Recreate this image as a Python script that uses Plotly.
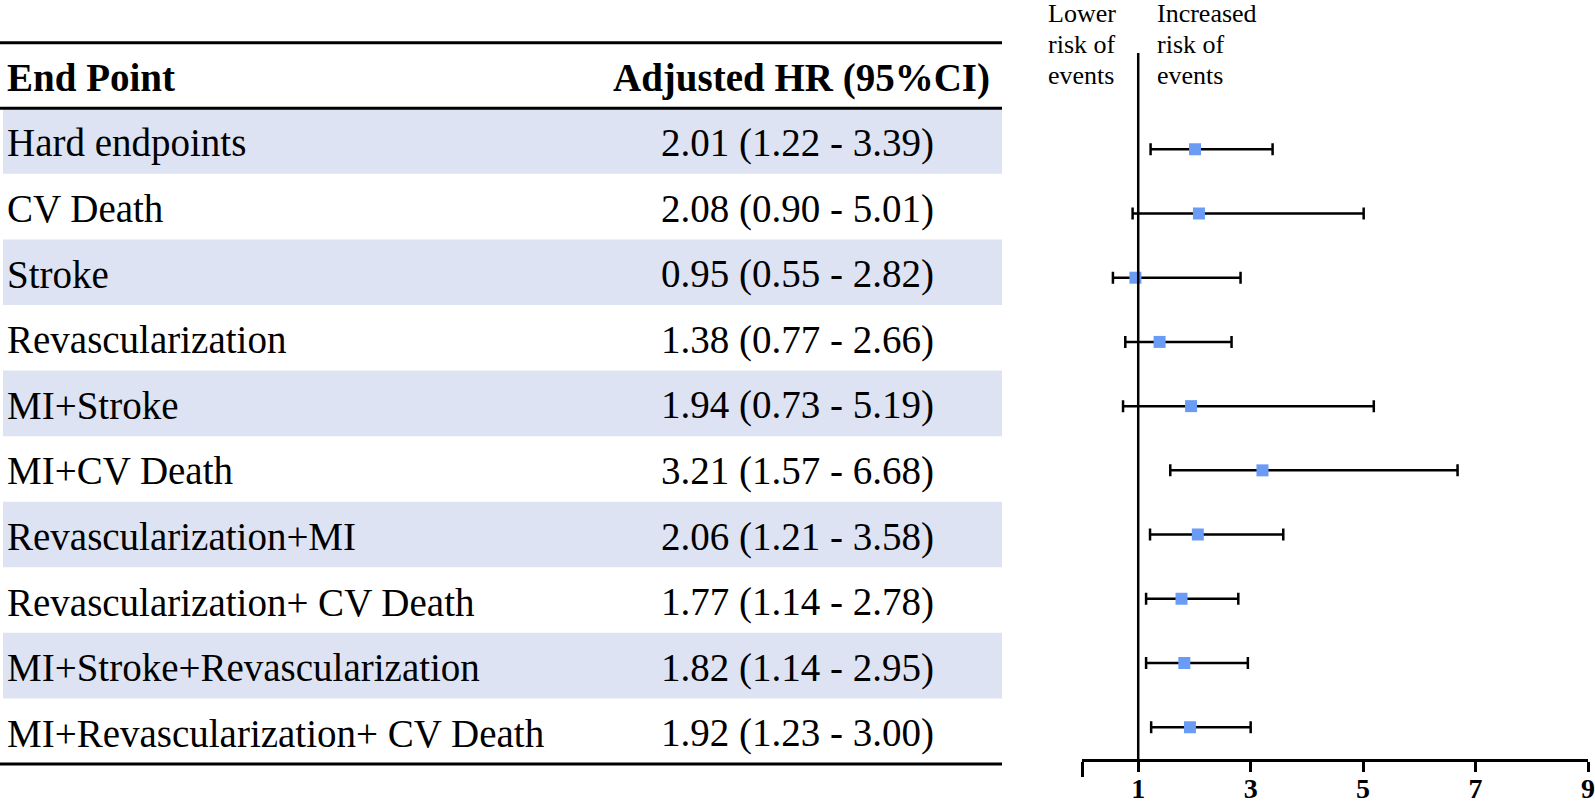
import plotly.graph_objects as go

# ---------------- data ----------------
endpoints = [
    "Hard endpoints", "CV Death", "Stroke", "Revascularization", "MI+Stroke",
    "MI+CV Death", "Revascularization+MI", "Revascularization+ CV Death",
    "MI+Stroke+Revascularization", "MI+Revascularization+ CV Death",
]
hr = [2.01, 2.08, 0.95, 1.38, 1.94, 3.21, 2.06, 1.77, 1.82, 1.92]
ci_low = [1.22, 0.90, 0.55, 0.77, 0.73, 1.57, 1.21, 1.14, 1.14, 1.23]
ci_high = [3.39, 5.01, 2.82, 2.66, 5.19, 6.68, 3.58, 2.78, 2.95, 3.00]
x_tick_vals = [1, 3, 5, 7, 9]
x_tick_text = ["1", "3", "5", "7", "9"]
header_left = "End Point"
header_right = "Adjusted HR (95%CI)"

# ---------------- style / layout constants ----------------
W, H = 1595, 802
SERIF = "Liberation Serif, Times New Roman, serif"
BAND = "#dde3f2"
MARK = "#6b9cf5"
TABLE_W = 1002          # table width in px (x2 units)
LABEL_X = 5
HR_X = 797
HEAD_HR_X = 801
TEXT_SHIFT = -2

rows = list(range(len(endpoints)))
hr_text = [f"{h:.2f} ({l:.2f} - {u:.2f})" for h, l, u in zip(hr, ci_low, ci_high)]

fig = go.Figure()

# forest plot
fig.add_trace(go.Scatter(
    x=hr, y=rows, mode="markers",
    marker=dict(symbol="square", size=12, color=MARK, line=dict(width=0)),
    error_x=dict(type="data", symmetric=False,
                 array=[u - h for h, u in zip(hr, ci_high)],
                 arrayminus=[h - l for h, l in zip(hr, ci_low)],
                 color="black", thickness=2.5, width=6),
    xaxis="x", yaxis="y", hoverinfo="skip", showlegend=False,
))

# invisible anchor trace for the table subplot
fig.add_trace(go.Scatter(
    x=[HR_X] * len(rows), y=rows, mode="markers", marker=dict(opacity=0),
    xaxis="x2", yaxis="y2", hoverinfo="skip", showlegend=False,
))

shapes = []
# shaded table rows
for r in rows:
    if r % 2 == 0:
        shapes.append(dict(type="rect", xref="x2", yref="y2", x0=3, x1=TABLE_W,
                           y0=r - 0.5, y1=r + 0.5, fillcolor=BAND, line=dict(width=0),
                           layer="below"))
# table rules
for yv in [-1.5, -0.5, len(rows) - 0.5]:
    shapes.append(dict(type="line", xref="x2", yref="y2", x0=0, x1=TABLE_W,
                       y0=yv, y1=yv, line=dict(color="black", width=3)))
# reference line at HR = 1
shapes.append(dict(type="line", xref="x", yref="y", x0=1, x1=1, y0=-1.5,
                   y1=len(rows) - 0.5, line=dict(color="black", width=2.5)))

annotations = []
annotations.append(dict(x=LABEL_X, y=-1, xref="x2", yref="y2", text=f"<b>{header_left}</b>",
                        showarrow=False, xanchor="left", yanchor="middle", yshift=TEXT_SHIFT,
                        font=dict(family=SERIF, size=39, color="black")))
annotations.append(dict(x=HEAD_HR_X, y=-1, xref="x2", yref="y2", text=f"<b>{header_right}</b>",
                        showarrow=False, xanchor="center", yanchor="middle", yshift=TEXT_SHIFT,
                        font=dict(family=SERIF, size=39, color="black")))
for r, name, t in zip(rows, endpoints, hr_text):
    annotations.append(dict(x=LABEL_X, y=r, xref="x2", yref="y2", text=name,
                            showarrow=False, xanchor="left", yanchor="middle", yshift=TEXT_SHIFT,
                            font=dict(family=SERIF, size=39, color="black")))
    annotations.append(dict(x=HR_X, y=r, xref="x2", yref="y2", text=t,
                            showarrow=False, xanchor="center", yanchor="middle", yshift=TEXT_SHIFT,
                            font=dict(family=SERIF, size=39, color="black")))

left_lines = ["Lower", "risk of", "events"]
right_lines = ["Increased", "risk of", "events"]
line_y = [13, 44, 75]
for txt, yy in zip(left_lines, line_y):
    annotations.append(dict(x=1046 / W, y=1 - yy / H, xref="paper", yref="paper", text=txt,
                            showarrow=False, xanchor="left", yanchor="middle",
                            font=dict(family=SERIF, size=26, color="black")))
for txt, yy in zip(right_lines, line_y):
    annotations.append(dict(x=1155 / W, y=1 - yy / H, xref="paper", yref="paper", text=txt,
                            showarrow=False, xanchor="left", yanchor="middle",
                            font=dict(family=SERIF, size=26, color="black")))

fig.update_layout(
    width=W, height=H, autosize=False,
    margin=dict(l=0, r=0, t=0, b=0, pad=0),
    paper_bgcolor="white", plot_bgcolor="rgba(0,0,0,0)",
    showlegend=False,
    shapes=shapes, annotations=annotations,
    xaxis=dict(domain=[1082 / W, 1588 / W], range=[0, 9], anchor="y", automargin=False,
               showgrid=False, zeroline=False, showline=True, linecolor="black", linewidth=2.5,
               ticks="outside", ticklen=10, tickwidth=2.5, tickcolor="black",
               tickvals=x_tick_vals, ticktext=x_tick_text, ticklabelstandoff=-8,
               ticklabeloverflow="allow",
               tickfont=dict(family=SERIF, size=28, color="black", weight="bold"),
               minor=dict(tickvals=[0], ticks="outside", ticklen=15, tickwidth=2.5,
                          tickcolor="black", showgrid=False)),
    yaxis=dict(domain=[1 - 759.3 / H, 1 - 52.97 / H], range=[len(rows) - 0.5, -1.5],
               anchor="x", automargin=False, visible=False, showgrid=False, zeroline=False),
    xaxis2=dict(domain=[0, TABLE_W / W], range=[0, TABLE_W], anchor="y2", automargin=False,
                visible=False, showgrid=False, zeroline=False),
    yaxis2=dict(domain=[0, 1], range=[10.0795, -2.1517], anchor="x2", automargin=False,
                visible=False, showgrid=False, zeroline=False),
)

fig.write_html(
    "out.html",
    config={"displayModeBar": False},
    post_script=(
        "document.body.style.margin='0';"
        "document.body.style.overflow='hidden';"
    ),
)
